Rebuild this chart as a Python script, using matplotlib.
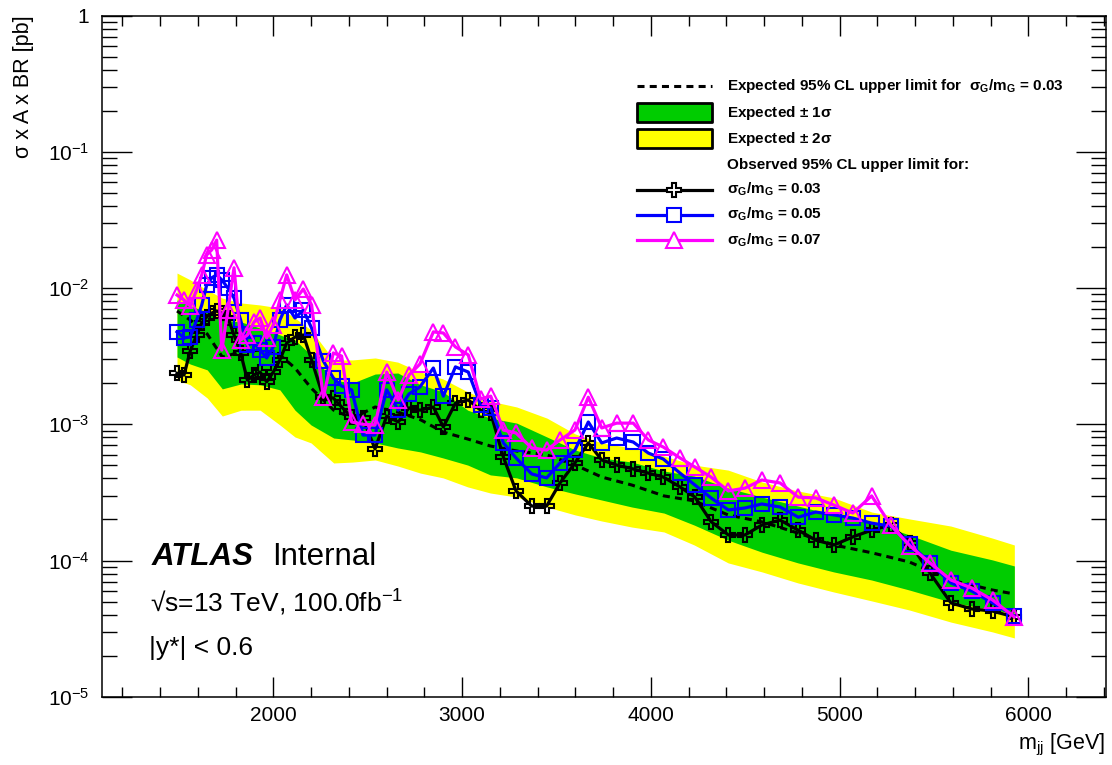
#! /usr/bin/env python3

import numpy as np
import matplotlib
matplotlib.use('Agg')
import matplotlib.pyplot as plt
from matplotlib.lines import Line2D
from matplotlib.patches import Rectangle
from matplotlib.ticker import MultipleLocator, LogLocator, FuncFormatter, NullFormatter

plt.rcParams['font.family'] = ['Liberation Sans', 'DejaVu Sans']
plt.rcParams['mathtext.fontset'] = 'custom'
plt.rcParams['mathtext.rm'] = 'Liberation Sans'
plt.rcParams['mathtext.it'] = 'Liberation Sans:italic'
plt.rcParams['mathtext.bf'] = 'Liberation Sans:bold'
plt.rcParams['mathtext.default'] = 'regular'

# observed limits, one entry per signal mass point [GeV], values in pb
mass = [1490, 1527, 1560, 1594, 1621, 1647, 1674, 1700, 1727, 1760,
        1792, 1827, 1863, 1898, 1930, 1965, 2000, 2035, 2071, 2115,
        2159, 2203, 2265, 2318, 2362, 2415, 2475, 2539, 2601, 2662,
        2719, 2777, 2848, 2901, 2965, 3033, 3098, 3152, 3219, 3286,
        3369, 3448, 3519, 3598, 3669, 3740, 3819, 3907, 3987, 4066,
        4155, 4234, 4319, 4411, 4499, 4588, 4685, 4781, 4874, 4971,
        5070, 5170, 5271, 5373, 5479, 5590, 5700, 5811, 5926]

obs_003 = [2.37e-3, 2.30e-3, 3.45e-3, 4.53e-3, 5.55e-3, 6.14e-3, 6.56e-3, 6.79e-3, 6.56e-3, 6.03e-3,
           4.53e-3, 3.34e-3, 2.11e-3, 2.30e-3, 2.42e-3, 2.05e-3, 2.42e-3, 2.97e-3, 3.95e-3, 4.37e-3,
           4.53e-3, 2.97e-3, 1.58e-3, 1.56e-3, 1.34e-3, 1.13e-3, 1.11e-3, 6.59e-4, 1.15e-3, 1.04e-3,
           1.32e-3, 1.27e-3, 1.34e-3, 9.55e-4, 1.43e-3, 1.51e-3, 1.27e-3, 1.21e-3, 5.75e-4, 3.24e-4,
           2.51e-4, 2.51e-4, 3.71e-4, 5.20e-4, 7.30e-4, 5.47e-4, 5.02e-4, 4.70e-4, 4.38e-4, 4.10e-4,
           3.47e-4, 2.92e-4, 1.93e-4, 1.54e-4, 1.54e-4, 1.82e-4, 1.98e-4, 1.67e-4, 1.41e-4, 1.30e-4,
           1.49e-4, 1.67e-4, 1.82e-4, 1.34e-4, 8.09e-5, 4.88e-5, 4.41e-5, 4.25e-5, 3.85e-5]

obs_005 = [4.77e-3, 4.31e-3, 4.37e-3, 5.83e-3, 7.52e-3, 1.05e-2, 1.19e-2, 1.25e-2, 1.15e-2, 1.00e-2,
           8.45e-3, 5.83e-3, 3.82e-3, 3.95e-3, 3.51e-3, 3.07e-3, 3.70e-3, 5.83e-3, 7.52e-3, 6.03e-3,
           6.90e-3, 5.09e-3, 2.92e-3, 2.19e-3, 1.91e-3, 1.79e-3, 8.34e-4, 8.34e-4, 1.79e-3, 1.27e-3,
           1.67e-3, 1.88e-3, 2.59e-3, 1.61e-3, 2.64e-3, 2.42e-3, 1.39e-3, 1.32e-3, 7.30e-4, 5.66e-4,
           4.32e-4, 4.04e-4, 5.20e-4, 6.47e-4, 1.04e-3, 7.30e-4, 7.93e-4, 7.41e-4, 6.15e-4, 5.56e-4,
           4.38e-4, 3.58e-4, 2.88e-4, 2.35e-4, 2.43e-4, 2.60e-4, 2.47e-4, 2.08e-4, 2.27e-4, 2.16e-4,
           2.05e-4, 1.88e-4, 1.79e-4, 1.32e-4, 9.60e-5, 6.84e-5, 5.97e-5, 4.88e-5, 3.92e-5]

obs_007 = [8.89e-3, 8.18e-3, 7.40e-3, 9.68e-3, 1.25e-2, 1.75e-2, 1.91e-2, 2.25e-2, 3.51e-3, 6.90e-3,
           1.41e-2, 4.16e-3, 4.53e-3, 5.64e-3, 6.03e-3, 4.31e-3, 5.36e-3, 8.18e-3, 1.25e-2, 8.18e-3,
           9.84e-3, 7.52e-3, 1.58e-3, 3.34e-3, 3.17e-3, 1.04e-3, 1.00e-3, 9.89e-4, 2.42e-3, 1.51e-3,
           2.30e-3, 2.77e-3, 4.77e-3, 4.68e-3, 3.70e-3, 3.23e-3, 1.53e-3, 1.61e-3, 9.08e-4, 8.63e-4,
           6.70e-4, 6.47e-4, 7.67e-4, 9.08e-4, 1.58e-3, 9.40e-4, 1.02e-3, 1.02e-3, 7.67e-4, 6.81e-4,
           5.66e-4, 4.85e-4, 4.10e-4, 3.24e-4, 3.40e-4, 3.90e-4, 3.71e-4, 2.92e-4, 2.88e-4, 2.55e-4,
           2.23e-4, 2.98e-4, 1.82e-4, 1.28e-4, 9.60e-5, 7.19e-5, 6.28e-5, 5.13e-5, 3.85e-5]

# expected limit for sigma_G/m_G = 0.03 with its 1 and 2 sigma bands
exp_mass = [1490, 1560, 1650, 1730, 1830, 1930, 2035, 2115, 2200, 2320,
            2420, 2540, 2660, 2780, 2900, 3030, 3150, 3290, 3450, 3600,
            3740, 3900, 4070, 4230, 4410, 4590, 4780, 4970, 5170, 5370,
            5590, 5810, 5926]

exp_med = [6.79e-3, 5.83e-3, 4.60e-3, 3.12e-3, 3.40e-3, 3.51e-3, 3.23e-3, 2.59e-3, 1.85e-3, 1.27e-3,
           1.11e-3, 1.34e-3, 1.23e-3, 1.08e-3, 8.77e-4, 7.80e-4, 6.93e-4, 6.37e-4, 5.96e-4, 5.02e-4,
           4.10e-4, 3.58e-4, 2.98e-4, 2.74e-4, 2.16e-4, 1.92e-4, 1.59e-4, 1.30e-4, 1.14e-4, 9.75e-5,
           7.19e-5, 6.07e-5, 5.68e-5]

exp_p1 = [8.18e-3, 7.40e-3, 6.68e-3, 5.83e-3, 5.64e-3, 5.09e-3, 4.53e-3, 4.16e-3, 3.23e-3, 2.11e-3,
          2.01e-3, 2.34e-3, 2.38e-3, 1.95e-3, 1.73e-3, 1.27e-3, 1.11e-3, 1.02e-3, 8.07e-4, 6.47e-4,
          5.66e-4, 5.28e-4, 4.54e-4, 4.17e-4, 3.40e-4, 2.92e-4, 2.51e-4, 2.16e-4, 1.92e-4, 1.54e-4,
          1.19e-4, 1.01e-4, 9.12e-5]

exp_m1 = [3.12e-3, 2.77e-3, 2.51e-3, 1.82e-3, 1.98e-3, 1.95e-3, 1.79e-3, 1.27e-3, 9.89e-4, 7.93e-4,
          7.67e-4, 7.30e-4, 6.70e-4, 6.27e-4, 5.66e-4, 5.02e-4, 4.25e-4, 4.04e-4, 3.47e-4, 3.08e-4,
          2.78e-4, 2.47e-4, 2.23e-4, 1.82e-4, 1.41e-4, 1.15e-4, 9.60e-5, 8.24e-5, 7.19e-5, 6.07e-5,
          4.95e-5, 4.33e-5, 4.12e-5]

exp_p2 = [1.29e-2, 1.15e-2, 9.68e-3, 8.45e-3, 7.78e-3, 7.52e-3, 7.14e-3, 6.03e-3, 4.92e-3, 2.97e-3,
          2.97e-3, 3.07e-3, 2.86e-3, 2.42e-3, 2.15e-3, 1.73e-3, 1.48e-3, 1.34e-3, 1.11e-3, 8.49e-4,
          7.30e-4, 6.70e-4, 5.85e-4, 5.02e-4, 4.61e-4, 3.77e-4, 3.24e-4, 2.88e-4, 2.27e-4, 2.02e-4,
          1.79e-4, 1.46e-4, 1.30e-4]

exp_m2 = [2.11e-3, 1.95e-3, 1.56e-3, 1.15e-3, 1.27e-3, 1.27e-3, 9.89e-4, 8.07e-4, 7.30e-4, 5.20e-4,
          5.28e-4, 5.47e-4, 4.94e-4, 4.38e-4, 4.04e-4, 3.47e-4, 3.13e-4, 2.92e-4, 2.47e-4, 2.16e-4,
          1.95e-4, 1.76e-4, 1.62e-4, 1.30e-4, 9.60e-5, 8.24e-5, 6.84e-5, 5.87e-5, 5.05e-5, 4.33e-5,
          3.53e-5, 2.99e-5, 2.70e-5]

W, H = 1112, 765
GREEN = '#00cc00'
YELLOW = '#ffff00'
DASH = (0, (2.3, 1.7))


def fx(px):
    return px / W


def fy(py):
    return 1 - py / H


def log_label(v, pos):
    e = int(round(np.log10(v)))
    if e == 0:
        return '1'
    return r'$10^{%d}$' % e


fig = plt.figure(figsize=(W / 100, H / 100), dpi=100)
ax = fig.add_axes([fx(101.7), fy(696.7), fx(1105.7) - fx(101.7), fy(15.7) - fy(696.7)])

# expected bands and median
ax.fill_between(exp_mass, exp_m2, exp_p2, color=YELLOW, lw=0, zorder=1)
ax.fill_between(exp_mass, exp_m1, exp_p1, color=GREEN, lw=0, zorder=2)
ax.plot(exp_mass, exp_med, color='k', lw=2.2, ls=DASH, zorder=3)

# observed limits
obs_style = [
    (obs_003, 'k', 'P', 10.5),
    (obs_005, '#0000ff', 's', 10.5),
    (obs_007, '#ff00ff', '^', 11.0),
]
for vals, col, mk, ms in obs_style:
    ax.plot(mass, vals, color=col, lw=2.3, marker=mk, ms=ms, mfc='none',
            mec=col, mew=1.5, zorder=4)

ax.set_xlim(1091, 6410)
ax.set_yscale('log')
ax.set_ylim(1e-5, 1)

ax.xaxis.set_major_locator(MultipleLocator(1000))
ax.xaxis.set_minor_locator(MultipleLocator(200))
ax.yaxis.set_major_locator(LogLocator(base=10, numticks=10))
ax.yaxis.set_minor_locator(LogLocator(base=10, subs=np.arange(2, 10), numticks=10))
ax.yaxis.set_major_formatter(FuncFormatter(log_label))
ax.yaxis.set_minor_formatter(NullFormatter())

ax.tick_params(which='both', direction='in', top=True, right=True, width=1.0,
               labelsize=15, colors='k')
ax.tick_params(axis='x', which='major', length=14.4, pad=7)
ax.tick_params(axis='x', which='minor', length=7.2)
ax.tick_params(axis='y', which='major', length=21.6, pad=9)
ax.tick_params(axis='y', which='minor', length=10.8)
for s in ax.spines.values():
    s.set_linewidth(1.1)
    s.set_zorder(6)

# axis titles sit at the far ends of the axes
fig.text(fx(1105), fy(745), 'm$_{jj}$ [GeV]', ha='right', va='center', fontsize=15.5)
fig.text(fx(23), fy(15), 'σ x A x BR [pb]', rotation=90, ha='center', va='top',
         fontsize=15.5)

# ATLAS label block
fig.text(fx(152), fy(565), 'ATLAS', fontsize=22.5, fontweight='bold',
         fontstyle='italic', va='baseline')
fig.text(fx(271.7), fy(565), 'Internal', fontsize=22.5, va='baseline')
fig.text(fx(150), fy(611.7), '√s=13 TeV, 100.0fb$^{-1}$', fontsize=19, va='baseline')
fig.text(fx(149), fy(655), '|y*| < 0.6', fontsize=19, va='baseline')

# legend drawn by hand, ROOT style
x0, x1, xt = 637, 712, 727
xc = 0.5 * (x0 + x1)
rows = [86, 112.5, 138.5, 164.5, 189.5, 214.5, 240]
sig = r'$\sigma_{\mathbf{G}}\mathbf{/m}_{\mathbf{G}}$'
labels = [
    'Expected 95% CL upper limit for  ' + sig + ' = 0.03',
    r'Expected $\pm$ 1$\sigma$',
    r'Expected $\pm$ 2$\sigma$',
    'Observed 95% CL upper limit for:',
    sig + ' = 0.03',
    sig + ' = 0.05',
    sig + ' = 0.07',
]
for r, lab in zip(rows, labels):
    fig.text(fx(xt), fy(r), lab, fontsize=11, fontweight='bold', va='center')

fig.add_artist(Line2D([fx(x0), fx(x1)], [fy(rows[0])] * 2, transform=fig.transFigure,
                      color='k', lw=2.2, ls=DASH))
for r, col in [(rows[1], GREEN), (rows[2], YELLOW)]:
    fig.add_artist(Rectangle((fx(x0), fy(r + 9)), fx(x1) - fx(x0), 18 / H,
                             transform=fig.transFigure, facecolor=col,
                             edgecolor='k', lw=2.0, joinstyle='round'))
for r, (vals, col, mk, ms) in zip(rows[4:], obs_style):
    fig.add_artist(Line2D([fx(x0), fx(x1)], [fy(r)] * 2, transform=fig.transFigure,
                          color=col, lw=2.3))
    fig.add_artist(Line2D([fx(xc)], [fy(r)], transform=fig.transFigure, color=col,
                          marker=mk, ms=ms, mfc='white', mec=col, mew=1.5))

fig.savefig('out.png', dpi=100)
